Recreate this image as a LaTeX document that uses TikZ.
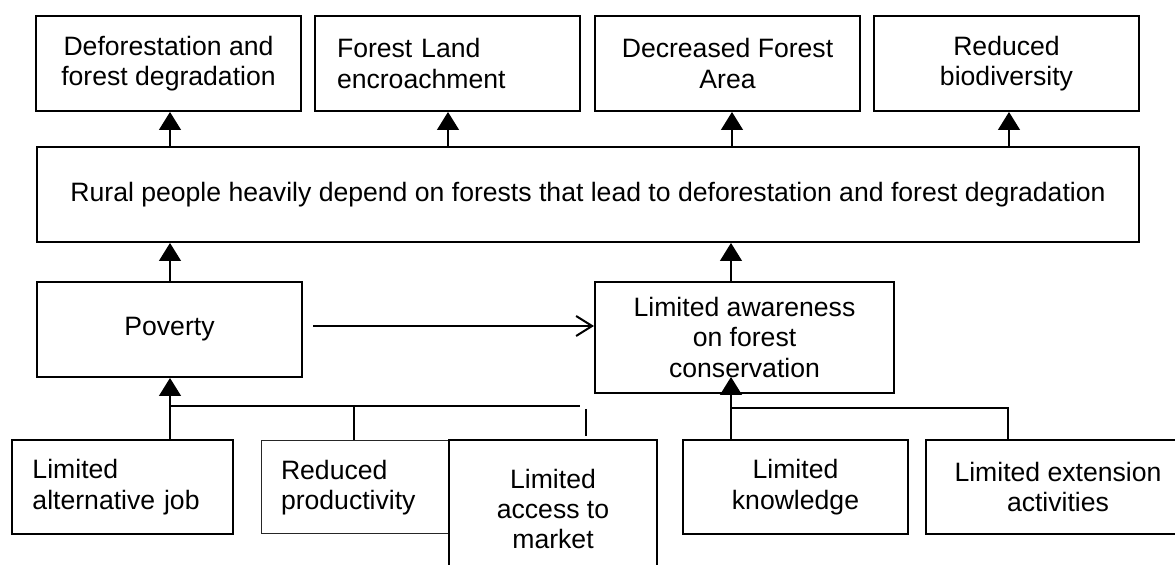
\documentclass[tikz,border=0pt]{standalone}
\usepackage{fontspec}
\setmainfont{Liberation Sans}
\usetikzlibrary{arrows.meta}
\begin{document}
\begin{tikzpicture}[x=0.5pt,y=-0.5pt,
  box/.style={draw, line width=1pt, inner sep=0pt, align=center, fill=white,
    font=\fontsize{13.3pt}{15.2pt}\selectfont},
  thinbox/.style={box, line width=0.5pt, draw=black!85},
  conn/.style={line width=0.65pt},
  tri/.style={conn, -{Triangle[length=9pt,width=11pt]}},
  openarr/.style={line width=1pt, -{Straight Barb[length=8pt,width=10pt,line width=1pt]}}
]
\useasboundingbox (0,0) rectangle (1175,565);
\clip (0,0) rectangle (1175,565);
% top row
\node[box, minimum width=132.5pt, minimum height=47.5pt] (t1) at (168.5,63.5) {Deforestation and\\forest degradation};
\node[box, minimum width=132.5pt, minimum height=47.5pt, inner xsep=11pt, text width=110.5pt, align=left] (t2) at (447.5,63.5) {Forest Land\\encroachment};
\node[box, minimum width=132.5pt, minimum height=47.5pt] (t3) at (727.5,63.5) {Decreased Forest\\Area};
\node[box, minimum width=132.5pt, minimum height=47.5pt] (t4) at (1006.5,63.5) {Reduced\\biodiversity};
% central
\node[box, minimum width=551pt, minimum height=47.5pt] (big) at (588,194.5) {Rural people heavily depend on forests that lead to deforestation and forest degradation};
% middle row
\node[box, minimum width=132.5pt, minimum height=47.5pt] (pov) at (169.5,329.5) {Poverty};
\node[box, minimum width=149.5pt, minimum height=55.5pt] (aw) at (744.5,337.5) {Limited awareness\\on forest\\conservation};
% bottom row
\node[box, minimum width=110.5pt, minimum height=47pt, inner xsep=10.25pt, text width=90pt, align=left] (lj) at (122.5,487) {Limited\\alternative job};
\node[thinbox, minimum width=104.5pt, minimum height=46.5pt, inner xsep=10pt, text width=84.5pt, align=left] (rp) at (365.5,487.5) {Reduced\\productivity\\[4pt]};
\node[box, minimum width=104pt, minimum height=69pt] (mk) at (553,509) {Limited\\access to\\market};
\node[box, minimum width=112.5pt, minimum height=47pt] (kn) at (795.5,487) {Limited\\knowledge};
\node[box, minimum width=132pt, minimum height=47pt] (ex) at (1058,487) {Limited extension\\activities};
% x positions for connectors
\coordinate (x1) at (170,0);
\coordinate (x2) at (448,0);
\coordinate (x3) at (732,0);
\coordinate (x4) at (1009,0);
% top arrows
\draw[tri] (x1 |- big.north) -- (x1 |- t1.south);
\draw[tri] (x2 |- big.north) -- (x2 |- t2.south);
\draw[tri] (x3 |- big.north) -- (x3 |- t3.south);
\draw[tri] (x4 |- big.north) -- (x4 |- t4.south);
% middle to central
\draw[tri] (x1 |- pov.north) -- (x1 |- big.south);
\coordinate (xa) at (731,0);
\draw[tri] (xa |- aw.north) -- (xa |- big.south);
% poverty to awareness
\coordinate (ps) at (313,326);
\draw[openarr] (ps) -- (ps -| aw.west);
% poverty bracket
\coordinate (jp) at (170,406);
\coordinate (je) at (580,406);
\coordinate (jr) at (354,406);
\coordinate (tk) at (586,409);
\draw[conn] (jp) -- (je);
\draw[conn] (jr) -- (jr |- rp.north);
\draw[conn] (tk) -- ([yshift=1.5pt]tk |- mk.north);
\draw[tri] (jp |- lj.north) -- (jp |- pov.south);
% awareness bracket
\coordinate (ja) at (731,408);
\coordinate (jx) at (1008,408);
\coordinate (atip) at (731,377);
\draw[conn] (ja) -- (jx) -- (jx |- ex.north);
\draw[tri] (ja |- kn.north) -- (atip);
\end{tikzpicture}
\end{document}
